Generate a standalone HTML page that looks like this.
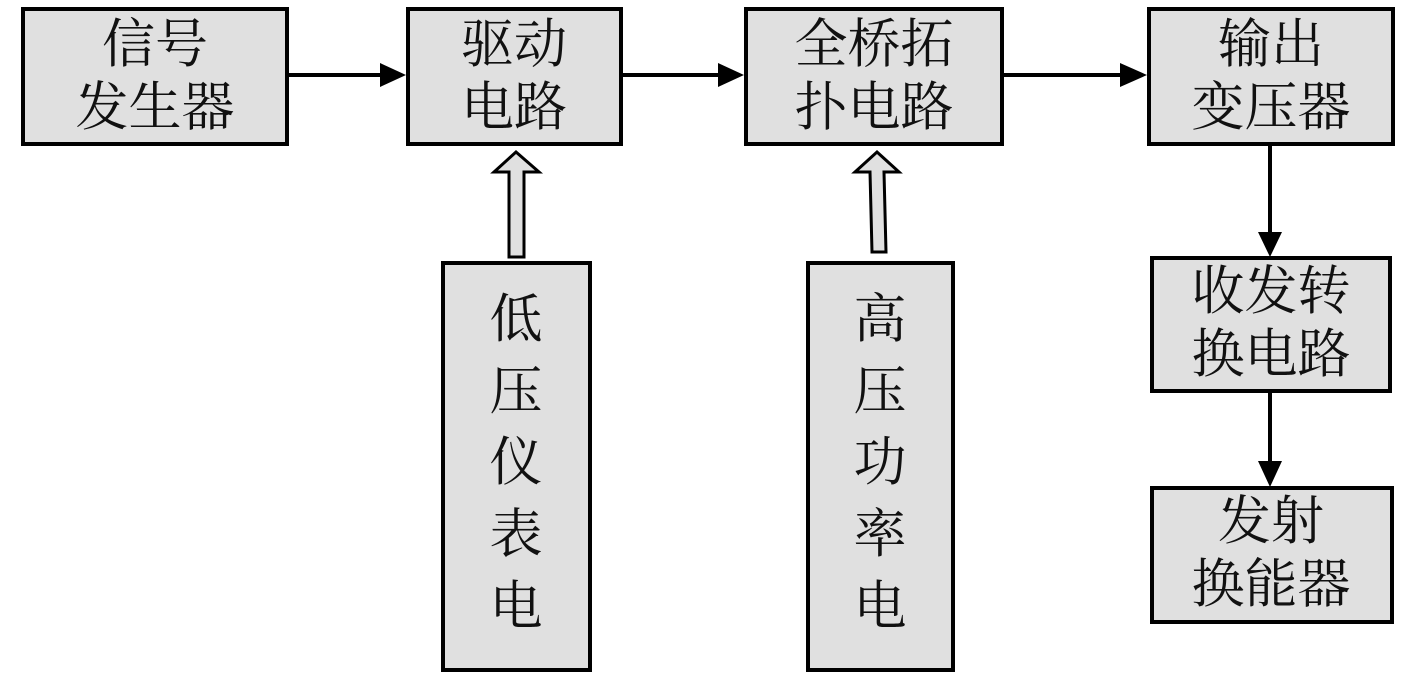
<!DOCTYPE html>
<html><head><meta charset="utf-8"><style>html,body{margin:0;padding:0;background:#fff}svg{display:block}</style></head>
<body>
<svg width="1417" height="679" viewBox="0 0 1417 679" xmlns="http://www.w3.org/2000/svg">
<defs><marker id="a" markerWidth="10" markerHeight="10" refX="10" refY="5" orient="auto" markerUnits="userSpaceOnUse" viewBox="0 0 10 10"><path d="M0,0 L10,5 L0,10 z" fill="#000"/></marker></defs>
<g fill="#e0e0e0" stroke="#000" stroke-width="4">
<rect x="23" y="9" width="264" height="135"/>
<rect x="408" y="9" width="213" height="135"/>
<rect x="746" y="9" width="256" height="135"/>
<rect x="1149" y="9" width="244" height="135"/>
<rect x="1152" y="258" width="238" height="133"/>
<rect x="1152" y="488" width="240" height="134"/>
<rect x="443" y="263" width="147" height="407"/>
<rect x="808" y="263" width="145" height="407"/>
<path d="M509,257 L509,172 L494,172 L516,152 L539,172 L524,172 L524,257 Z" stroke-width="3"/>
<path d="M872,252 L870,172 L855,172 L877,152 L899,172 L884,172 L886,252 Z" stroke-width="3"/>
</g>
<g stroke="#000" stroke-width="4">
<line x1="287" y1="75" x2="382" y2="75"/><path d="M380,63 L406,75 L380,87Z" stroke="none" fill="#000"/>
<line x1="621" y1="75" x2="720" y2="75"/><path d="M718,63 L744,75 L718,87Z" stroke="none" fill="#000"/>
<line x1="1002" y1="75" x2="1122" y2="75"/><path d="M1120,63 L1147,75 L1120,87Z" stroke="none" fill="#000"/>
<line x1="1270" y1="144" x2="1270" y2="234"/><path d="M1258,232 L1270,257 L1282,232Z" stroke="none" fill="#000"/>
<line x1="1270" y1="391" x2="1270" y2="463"/><path d="M1258,461 L1270,487 L1282,461Z" stroke="none" fill="#000"/>
</g>
<g font-family="'Liberation Serif','Noto Serif CJK SC',serif" font-size="53" fill="#111" text-anchor="middle" dominant-baseline="central">
<text x="155" y="45">信号</text><text x="155" y="108">发生器</text>
<text x="514" y="45">驱动</text><text x="514" y="108">电路</text>
<text x="874" y="45">全桥拓</text><text x="874" y="108">扑电路</text>
<text x="1271" y="45">输出</text><text x="1271" y="108">变压器</text>
<text x="1271" y="292">收发转</text><text x="1271" y="355">换电路</text>
<text x="1271" y="522">发射</text><text x="1271" y="585">换能器</text>
<text x="516" y="320">低</text><text x="516" y="392">压</text><text x="516" y="463">仪</text><text x="516" y="535">表</text><text x="516" y="607">电</text>
</g>
<g font-family="'Liberation Serif','Noto Serif CJK SC',serif" font-size="53" fill="#111" text-anchor="middle" dominant-baseline="central">
<text x="880" y="320">高</text><text x="880" y="392">压</text><text x="880" y="463">功</text><text x="880" y="535">率</text><text x="880" y="607">电</text>
</g>
</svg>
</body></html>
